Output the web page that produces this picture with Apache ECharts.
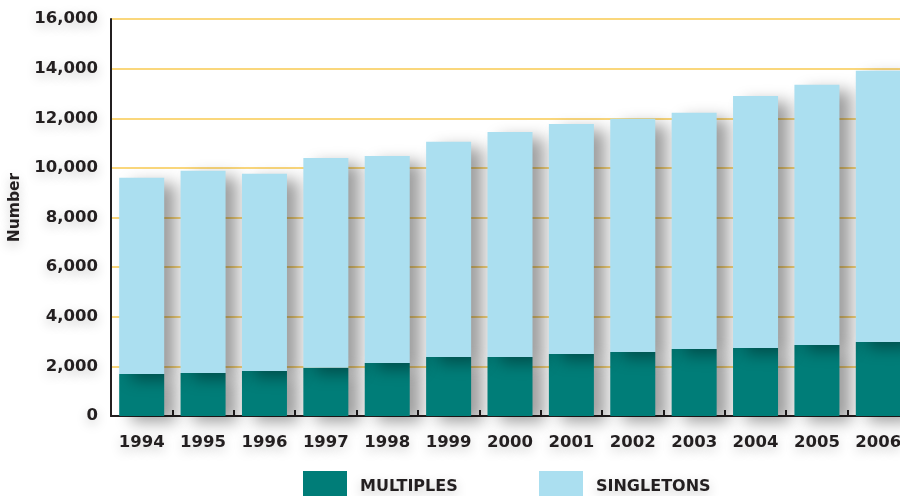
<!DOCTYPE html>
<html>
<head>
<meta charset="utf-8">
<script src="https://cdn.jsdelivr.net/npm/echarts@6/dist/echarts.min.js"></script>
<style>
  html, body { margin: 0; padding: 0; background: #ffffff; }
  #chart { width: 900px; height: 496px; }
</style>
</head>
<body>
<div id="chart"></div>
<script>
// Births by plurality, per year
var years = ['1994', '1995', '1996', '1997', '1998', '1999', '2000', '2001', '2002', '2003', '2004', '2005', '2006'];
var multiples = [1690, 1730, 1810, 1940, 2140, 2380, 2380, 2500, 2580, 2700, 2740, 2860, 2980];
var singletons = [7910, 8150, 7950, 8460, 8340, 8670, 9070, 9270, 9400, 9520, 10160, 10490, 10930];
var yTicks = { min: 0, max: 16000, interval: 2000 };

var FONT = '"DejaVu Sans", sans-serif';
var INK = '#231f20';
var TEAL = '#007d78';
var SKY = '#abdff0';

var glow = {
  textShadowColor: 'rgba(0,0,0,0.22)',
  textShadowBlur: 12,
  textShadowOffsetY: 4
};

var barShadow = {
  shadowColor: 'rgba(0,0,0,0.38)',
  shadowBlur: 16,
  shadowOffsetX: 12,
  shadowOffsetY: 6
};

var chart = echarts.init(document.getElementById('chart'), null, { renderer: 'canvas' });

function legendFor(name, left) {
  return {
    data: [name],
    left: left,
    top: 471,
    orient: 'horizontal',
    selectedMode: false,
    icon: 'rect',
    itemWidth: 44,
    itemHeight: 31,
    padding: 0,
    textStyle: Object.assign({
      fontFamily: FONT,
      fontWeight: 'bold',
      fontSize: 16,
      color: INK,
      padding: [0, 0, 0, 8]
    }, glow)
  };
}

chart.setOption({
  animation: false,
  backgroundColor: '#ffffff',
  grid: { left: 111, right: -9, top: 19, bottom: 80, containLabel: false, outerBoundsMode: 'none' },
  legend: [legendFor('MULTIPLES', 303), legendFor('SINGLETONS', 539)],
  xAxis: {
    type: 'category',
    data: years,
    boundaryGap: true,
    axisLine: { show: true, lineStyle: { color: INK, width: 2 } },
    axisTick: { show: true, inside: true, length: 6, lineStyle: { color: INK, width: 2 } },
    axisLabel: Object.assign({
      fontFamily: FONT,
      fontWeight: 'bold',
      fontSize: 16.5,
      color: INK,
      margin: 18,
      hideOverlap: false
    }, glow),
    splitLine: { show: false }
  },
  yAxis: {
    type: 'value',
    min: yTicks.min,
    max: yTicks.max,
    interval: yTicks.interval,
    name: 'Number',
    nameLocation: 'middle',
    nameGap: 81,
    nameRotate: 90,
    nameTextStyle: Object.assign({
      fontFamily: FONT,
      fontWeight: 'bold',
      fontSize: 15.5,
      color: INK,
      padding: [0, 0, 0, 20]
    }, glow),
    axisLine: { show: true, lineStyle: { color: INK, width: 2 } },
    axisTick: { show: false },
    axisLabel: Object.assign({
      fontFamily: FONT,
      fontWeight: 'bold',
      fontSize: 16.5,
      color: INK,
      margin: 13,
      padding: [4, 0, 0, 0],
      formatter: function (v) { return v.toLocaleString('en-US'); }
    }, glow),
    splitLine: { show: true, lineStyle: { color: '#fad77c', width: 2 } }
  },
  series: [
    {
      name: 'MULTIPLES',
      type: 'bar',
      stack: 'births',
      barWidth: 45,
      data: multiples,
      itemStyle: Object.assign({ color: TEAL }, barShadow)
    },
    {
      name: 'SINGLETONS',
      type: 'bar',
      stack: 'births',
      barWidth: 45,
      data: singletons,
      itemStyle: Object.assign({ color: SKY }, barShadow)
    }
  ]
});
</script>
</body>
</html>
